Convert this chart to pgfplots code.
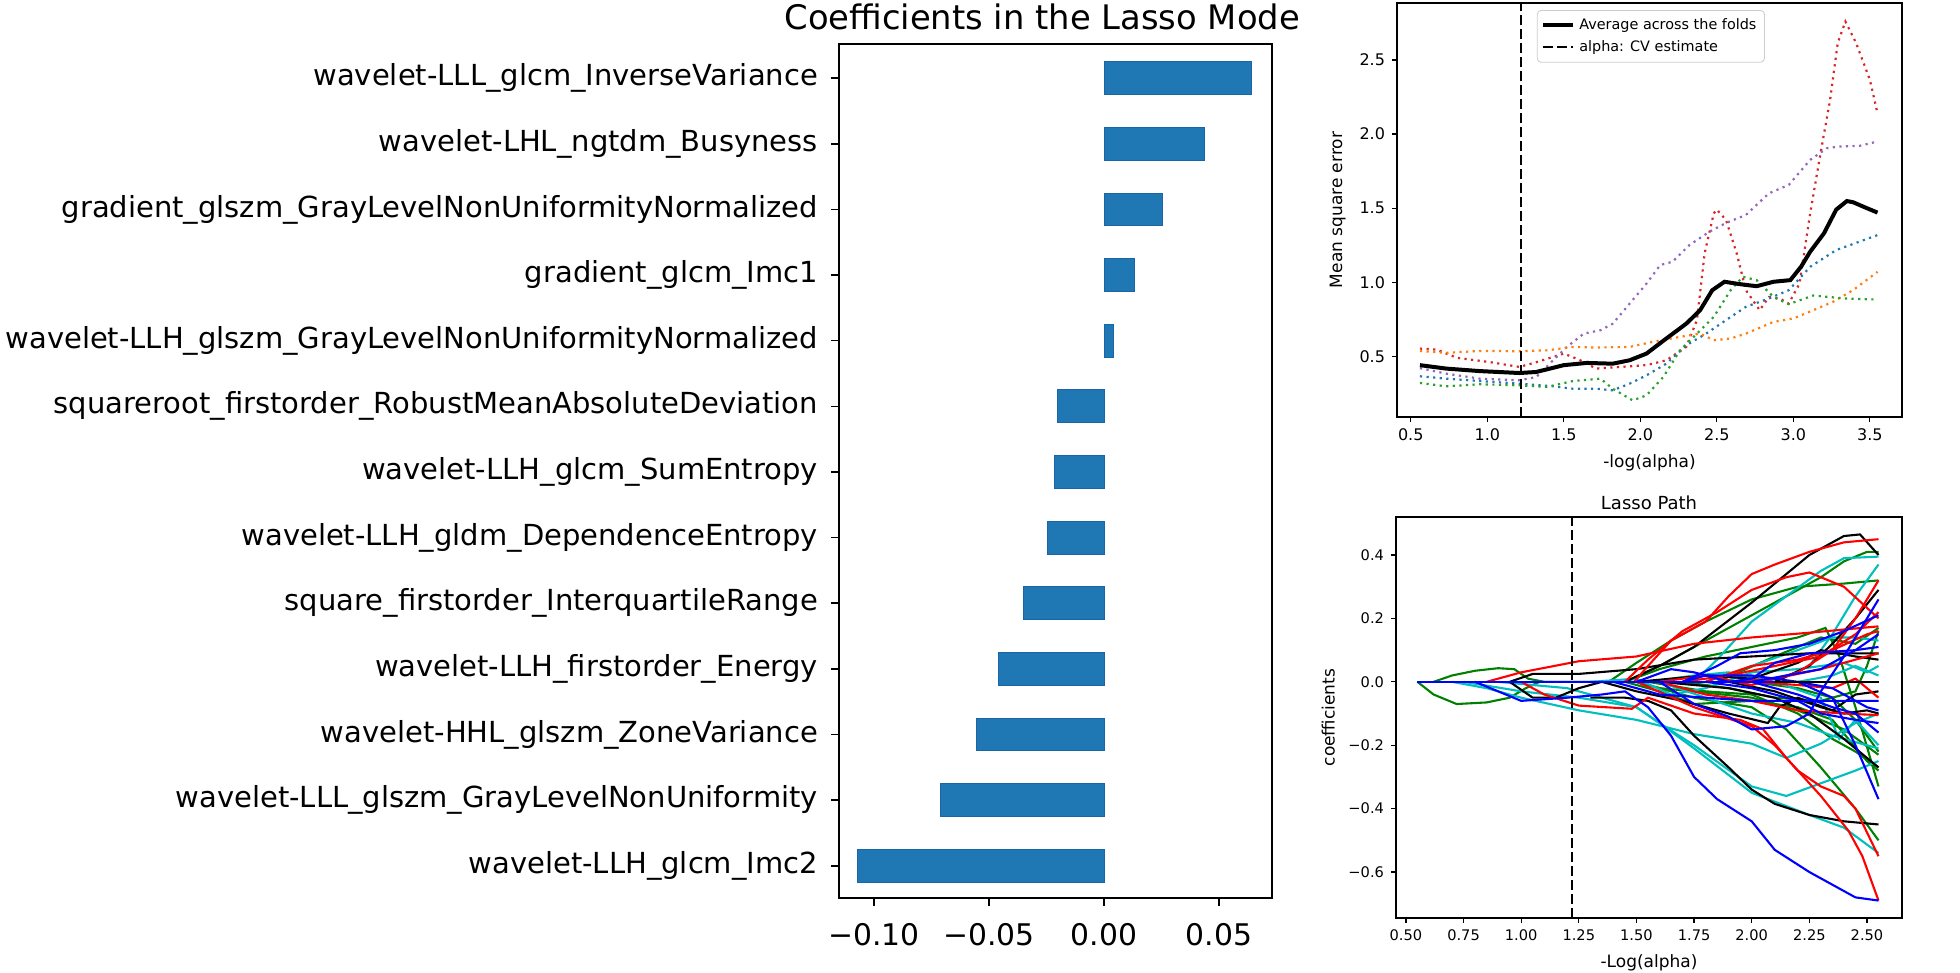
\documentclass[border=0pt]{standalone}
\usepackage{fontspec}
\setmainfont{DejaVu Sans}
\usepackage{pgfplots}
\pgfplotsset{compat=1.18}

\definecolor{barblue}{HTML}{1F77B4}
\definecolor{baredge}{HTML}{1A64A8}
\definecolor{tabblue}{HTML}{1F77B4}
\definecolor{taborange}{HTML}{FF7F0E}
\definecolor{tabgreen}{HTML}{2CA02C}
\definecolor{tabred}{HTML}{D62728}
\definecolor{tabpurple}{HTML}{9467BD}
\definecolor{mplg}{rgb}{0,0.5,0}
\definecolor{mplc}{rgb}{0,0.75,0.75}

\pgfplotsset{
  fold/.style={line width=1.1pt, dash pattern=on 1.1pt off 2.2pt, forget plot},
  lp/.style={line width=1.05pt, #1},
}

\begin{document}
\begin{tikzpicture}
\useasboundingbox (0,0) rectangle (980pt,-486.5pt);

% title of the left panel
\node[anchor=base west, inner sep=0pt, font=\fontsize{16.9}{20}\selectfont]
  at (392pt,-15pt) {Coefficients in the Lasso Mode};

% ---- left: coefficients of the lasso model
\begin{axis}[
    at={(419.5pt,-22pt)}, anchor=north west,
    scale only axis, width=216.5pt, height=427pt,
    xmin=-0.1152, xmax=0.073, ymin=-0.49, ymax=12.52,
    xtick={-0.1,-0.05,0,0.05},
    xticklabels={−0.10,−0.05,0.00,0.05},
    ytick={0,...,12},
    yticklabels={
      wavelet-LLH\_glcm\_Imc2,
      wavelet-LLL\_glszm\_GrayLevelNonUniformity,
      wavelet-HHL\_glszm\_ZoneVariance,
      wavelet-LLH\_firstorder\_Energy,
      square\_firstorder\_InterquartileRange,
      wavelet-LLH\_gldm\_DependenceEntropy,
      wavelet-LLH\_glcm\_SumEntropy,
      squareroot\_firstorder\_RobustMeanAbsoluteDeviation,
      wavelet-LLH\_glszm\_GrayLevelNonUniformityNormalized,
      gradient\_glcm\_Imc1,
      gradient\_glszm\_GrayLevelNonUniformityNormalized,
      wavelet-LHL\_ngtdm\_Busyness,
      wavelet-LLL\_glcm\_InverseVariance},
    yticklabel style={font=\fontsize{14.5}{17}\selectfont, xshift=-3pt},
    xticklabel style={font=\fontsize{14.9}{18}\selectfont, yshift=-5pt},
    tick align=outside, xtick pos=bottom, ytick pos=left,
    major tick length=4pt, axis line style={line width=1pt},
    tick style={line width=0.8pt, black},
]
\addplot[xbar, bar width=0.5, fill=barblue, draw=baredge, line width=0.5pt]
  coordinates {
    (-0.107,0) (-0.0713,1) (-0.0556,2) (-0.0457,3) (-0.0351,4)
    (-0.0247,5) (-0.0214,6) (-0.0204,7) (0.0043,8) (0.0131,9)
    (0.0252,10) (0.0438,11) (0.0639,12)
  };
\end{axis}

% ---- top right: cross-validated mean square error
\begin{axis}[
    at={(698.5pt,-1.5pt)}, anchor=north west,
    scale only axis, width=252.5pt, height=207pt,
    xmin=0.41, xmax=3.71, ymin=0.09, ymax=2.885,
    xtick={0.5,1,1.5,2,2.5,3,3.5},
    xticklabels={0.5,1.0,1.5,2.0,2.5,3.0,3.5},
    ytick={0.5,1,1.5,2,2.5},
    yticklabels={0.5,1.0,1.5,2.0,2.5},
    tick align=outside, xtick pos=bottom, ytick pos=left,
    major tick length=2.5pt, axis line style={line width=0.8pt},
    tick style={line width=0.6pt, black},
    tick label style={font=\fontsize{8}{9}\selectfont},
    label style={font=\fontsize{8.5}{10}\selectfont},
    xlabel={-log(alpha)}, ylabel={Mean square error},
    legend style={at={(0.277,0.983)}, anchor=north west, draw=black!20,
      rounded corners=2pt, fill=white, font=\fontsize{7.2}{8.8}\selectfont,
      inner sep=2pt},
    legend cell align=left,
    legend image code/.code={\draw[#1] (0pt,0pt) -- (15pt,0pt);},
]
\addplot[fold, tabred] coordinates {
  (0.56,0.552) (0.67,0.545) (0.80,0.49) (1.02,0.46) (1.21,0.428) (1.32,0.46)
  (1.50,0.518) (1.60,0.477) (1.71,0.417) (1.87,0.428) (2.04,0.44) (2.17,0.473)
  (2.30,0.563) (2.37,0.744) (2.42,1.194) (2.48,1.465) (2.50,1.49) (2.56,1.42)
  (2.63,1.194) (2.69,0.946) (2.78,0.811) (2.84,0.90) (2.91,0.89) (2.97,0.856)
  (3.04,0.99) (3.11,1.465) (3.17,1.826) (3.24,2.23) (3.29,2.615) (3.34,2.76)
  (3.41,2.615) (3.50,2.367) (3.55,2.14)};
\addplot[fold, tabpurple] coordinates {
  (0.56,0.42) (0.73,0.383) (0.95,0.349) (1.21,0.338) (1.32,0.36) (1.43,0.473)
  (1.52,0.563) (1.63,0.653) (1.74,0.676) (1.82,0.72) (1.95,0.88) (2.04,0.99)
  (2.13,1.116) (2.21,1.138) (2.32,1.25) (2.45,1.34) (2.56,1.40) (2.69,1.454)
  (2.84,1.60) (2.97,1.657) (3.11,1.826) (3.22,1.905) (3.30,1.916) (3.43,1.92)
  (3.55,1.95)};
\addplot[fold, tabblue] coordinates {
  (0.56,0.365) (0.73,0.349) (0.95,0.333) (1.21,0.315) (1.43,0.297) (1.56,0.281)
  (1.71,0.281) (1.82,0.27) (1.93,0.315) (2.04,0.371) (2.17,0.45) (2.30,0.574)
  (2.43,0.653) (2.56,0.744) (2.69,0.834) (2.84,0.89) (2.97,0.946) (3.11,1.104)
  (3.28,1.217) (3.43,1.273) (3.55,1.318)};
\addplot[fold, taborange] coordinates {
  (0.56,0.536) (0.73,0.523) (0.95,0.536) (1.21,0.534) (1.39,0.54) (1.56,0.563)
  (1.71,0.559) (1.93,0.563) (2.08,0.597) (2.26,0.631) (2.39,0.653) (2.48,0.608)
  (2.59,0.62) (2.69,0.653) (2.87,0.732) (3.00,0.755) (3.13,0.811) (3.26,0.868)
  (3.39,0.946) (3.55,1.07)};
\addplot[fold, tabgreen] coordinates {
  (0.56,0.32) (0.73,0.297) (0.95,0.311) (1.21,0.304) (1.39,0.293) (1.56,0.333)
  (1.74,0.349) (1.82,0.281) (1.95,0.202) (2.04,0.236) (2.15,0.36) (2.26,0.541)
  (2.37,0.653) (2.48,0.766) (2.59,0.946) (2.67,1.037) (2.76,1.014) (2.87,0.90)
  (2.97,0.852) (3.13,0.91) (3.34,0.89) (3.55,0.883)};
\addplot[black, line width=2pt] coordinates {
  (0.56,0.44) (0.73,0.417) (0.95,0.40) (1.21,0.387) (1.32,0.394) (1.50,0.44)
  (1.65,0.455) (1.82,0.45) (1.93,0.473) (2.04,0.518) (2.17,0.62) (2.30,0.72)
  (2.39,0.81) (2.47,0.946) (2.55,1.003) (2.65,0.987) (2.76,0.973) (2.87,1.003)
  (2.98,1.014) (3.05,1.104) (3.11,1.206) (3.20,1.33) (3.28,1.49) (3.35,1.548)
  (3.39,1.54) (3.48,1.50) (3.55,1.47)};
\addlegendentry{Average across the folds}
\addplot[black, line width=1pt, dash pattern=on 5pt off 2pt]
  coordinates {(1.222,0.09) (1.222,2.885)};
\addlegendentry{alpha: CV estimate}
\end{axis}

% ---- bottom right: lasso path
\begin{axis}[
    at={(698pt,-258.5pt)}, anchor=north west,
    scale only axis, width=253pt, height=200.5pt,
    xmin=0.457, xmax=2.652, ymin=-0.745, ymax=0.52,
    xtick={0.5,0.75,1,1.25,1.5,1.75,2,2.25,2.5},
    xticklabels={0.50,0.75,1.00,1.25,1.50,1.75,2.00,2.25,2.50},
    ytick={-0.6,-0.4,-0.2,0,0.2,0.4},
    yticklabels={−0.6,−0.4,−0.2,0.0,0.2,0.4},
    tick align=outside, xtick pos=bottom, ytick pos=left,
    major tick length=2.5pt, axis line style={line width=0.8pt},
    tick style={line width=0.6pt, black},
    tick label style={font=\fontsize{7.3}{9}\selectfont},
    label style={font=\fontsize{8.5}{10}\selectfont},
    every axis title shift=0pt,
    title style={font=\fontsize{9}{11}\selectfont, at={(0.5,1)}, anchor=base, yshift=4pt},
    title={Lasso Path}, xlabel={-Log(alpha)}, ylabel={coefficients},
]
% blue, zero line underneath
\addplot[lp=blue] coordinates {(0.55,0) (2.55,0)};
% green
\addplot[lp=mplg] coordinates {(0.62,0) (0.7,0.02) (0.8,0.035) (0.9,0.043) (0.97,0.04) (1.03,0.01) (1.1,0) (1.5,0) (1.6,-0.02) (1.75,-0.03) (2.0,-0.05) (2.2,-0.09) (2.4,-0.15) (2.55,-0.23)};
\addplot[lp=mplg] coordinates {(0.55,0) (0.62,-0.04) (0.72,-0.07) (0.85,-0.065) (0.95,-0.05) (1.02,-0.02) (1.08,0) (1.45,0) (1.6,0.05) (1.75,0.11) (1.9,0.17) (2.1,0.25) (2.3,0.33) (2.4,0.38) (2.5,0.41) (2.55,0.41)};
\addplot[lp=mplg] coordinates {(1.38,0) (1.5,0.06) (1.65,0.13) (1.8,0.19) (2.0,0.26) (2.2,0.30) (2.4,0.31) (2.55,0.32)};
\addplot[lp=mplg] coordinates {(1.45,0) (1.6,0.04) (1.8,0.08) (2.0,0.11) (2.2,0.14) (2.32,0.17) (2.38,0.08) (2.45,-0.08) (2.55,-0.33)};
\addplot[lp=mplg] coordinates {(1.5,0) (1.75,-0.05) (2.0,-0.08) (2.15,-0.15) (2.3,-0.27) (2.45,-0.40) (2.55,-0.50)};
\addplot[lp=mplg] coordinates {(1.55,0) (1.8,-0.03) (2.0,-0.04) (2.2,-0.10) (2.35,-0.18) (2.45,-0.22) (2.55,-0.27)};
\addplot[lp=mplg] coordinates {(1.7,0) (1.9,-0.02) (2.1,-0.05) (2.3,-0.06) (2.45,-0.03) (2.5,0.05) (2.55,0.16)};
\addplot[lp=mplg] coordinates {(1.45,0) (1.6,-0.03) (1.75,-0.07) (2.0,-0.06) (2.2,-0.08) (2.35,-0.12) (2.5,-0.25) (2.55,-0.28)};
\addplot[lp=mplg] coordinates {(1.85,0) (2.1,0.08) (2.3,0.14) (2.45,0.12) (2.55,0.17)};
\addplot[lp=mplg] coordinates {(2.0,0) (2.2,-0.02) (2.35,-0.05) (2.45,-0.12) (2.55,-0.22)};
% cyan
\addplot[lp=mplc] coordinates {(0.7,0) (0.85,-0.02) (1.0,-0.05) (1.25,-0.09) (1.5,-0.12) (1.75,-0.165) (2.0,-0.195) (2.15,-0.24) (2.3,-0.195) (2.45,-0.13) (2.55,-0.10)};
\addplot[lp=mplc] coordinates {(0.75,0) (1.0,-0.03) (1.25,-0.05) (1.5,-0.08) (1.6,-0.13) (1.75,-0.2) (2.0,-0.33) (2.15,-0.36) (2.3,-0.32) (2.45,-0.28) (2.55,-0.25)};
\addplot[lp=mplc] coordinates {(0.9,0) (1.2,-0.02) (1.5,-0.08) (1.6,-0.13) (1.75,-0.21) (2.0,-0.35) (2.25,-0.42) (2.4,-0.46) (2.55,-0.54)};
\addplot[lp=mplc] coordinates {(1.75,0) (1.85,0.07) (2.0,0.19) (2.15,0.27) (2.3,0.35) (2.4,0.39) (2.55,0.395)};
\addplot[lp=mplc] coordinates {(2.1,0) (2.25,0.05) (2.35,0.15) (2.45,0.27) (2.55,0.37)};
\addplot[lp=mplc] coordinates {(1.8,0) (2.0,0.05) (2.2,0.10) (2.35,0.14) (2.45,0.14) (2.55,0.13)};
\addplot[lp=mplc] coordinates {(1.55,0) (1.75,0.02) (1.9,0.03) (2.1,0.0) (2.3,-0.05) (2.38,-0.18) (2.45,-0.12) (2.55,-0.2)};
\addplot[lp=mplc] coordinates {(1.3,0) (1.5,0.01) (1.65,-0.04) (1.8,-0.02) (2.0,0.03) (2.2,0.04) (2.4,0.06) (2.5,0.03) (2.55,0.05)};
\addplot[lp=mplc] coordinates {(1.6,0) (1.8,-0.05) (2.0,-0.1) (2.2,-0.13) (2.35,-0.17) (2.45,-0.19) (2.55,-0.21)};
\addplot[lp=mplc] coordinates {(2.2,0) (2.35,0.02) (2.45,0.05) (2.55,0.02)};
% black
\addplot[lp=black] coordinates {(1.45,0) (1.6,0.05) (1.75,0.11) (2.0,0.25) (2.25,0.40) (2.4,0.46) (2.47,0.465) (2.55,0.40)};
\addplot[lp=black] coordinates {(0.95,0) (1.05,0.025) (1.25,0.025) (1.5,0.04) (1.75,0.07) (2.0,0.08) (2.25,0.09) (2.4,0.09) (2.55,0.09)};
\addplot[lp=black] coordinates {(1.3,-0.05) (1.45,-0.05) (1.55,-0.06) (1.65,-0.09) (1.75,-0.17) (1.9,-0.27) (2.0,-0.34) (2.1,-0.385) (2.25,-0.42) (2.4,-0.44) (2.55,-0.45)};
\addplot[lp=black] coordinates {(0.95,0) (1.05,-0.05) (1.15,-0.05) (1.25,-0.02) (1.35,0) (1.5,-0.03) (1.7,-0.06) (1.9,-0.1) (2.07,-0.13) (2.12,-0.08) (2.2,-0.05) (2.35,-0.09) (2.45,-0.04) (2.55,-0.03)};
\addplot[lp=black] coordinates {(2.1,0) (2.25,0.05) (2.35,0.12) (2.45,0.2) (2.55,0.29)};
\addplot[lp=black] coordinates {(1.6,0) (1.9,-0.02) (2.1,-0.05) (2.25,-0.1) (2.4,-0.18) (2.55,-0.27)};
\addplot[lp=black] coordinates {(1.5,0) (1.8,0.02) (2.0,0.01) (2.2,0.06) (2.3,0.10) (2.45,0.08) (2.55,0.07)};
\addplot[lp=black] coordinates {(1.9,0) (2.1,-0.03) (2.3,-0.08) (2.4,-0.1) (2.5,-0.09) (2.55,-0.1)};
% red
\addplot[lp=red] coordinates {(0.85,0) (1.0,0.03) (1.25,0.065) (1.5,0.08) (1.75,0.12) (2.0,0.14) (2.25,0.155) (2.55,0.175)};
\addplot[lp=red] coordinates {(1.49,0) (1.55,0.05) (1.65,0.13) (1.8,0.19) (1.9,0.27) (2.0,0.34) (2.1,0.37) (2.25,0.41) (2.4,0.44) (2.55,0.45)};
\addplot[lp=red] coordinates {(1.45,0) (1.55,0.07) (1.7,0.16) (1.85,0.22) (2.0,0.29) (2.15,0.33) (2.25,0.345) (2.4,0.30) (2.55,0.20)};
\addplot[lp=red] coordinates {(1.0,0) (1.1,-0.04) (1.25,-0.075) (1.48,-0.085) (1.55,-0.05) (1.75,-0.1) (1.95,-0.12) (2.05,-0.15) (2.15,-0.24) (2.3,-0.36) (2.42,-0.47) (2.48,-0.55) (2.55,-0.69)};
\addplot[lp=red] coordinates {(1.5,0) (1.75,-0.08) (2.0,-0.14) (2.1,-0.2) (2.2,-0.28) (2.3,-0.33) (2.4,-0.36) (2.45,-0.40) (2.55,-0.55)};
\addplot[lp=red] coordinates {(1.6,0) (1.8,0.02) (2.0,-0.01) (2.2,0.03) (2.35,0.1) (2.45,0.2) (2.55,0.32)};
\addplot[lp=red] coordinates {(1.7,0) (1.9,0.02) (2.1,0.05) (2.3,0.08) (2.45,0.15) (2.55,0.22)};
\addplot[lp=red] coordinates {(1.9,0) (2.1,0.01) (2.3,0.04) (2.45,0.07) (2.55,0.09)};
\addplot[lp=red] coordinates {(1.6,0) (1.8,-0.04) (2.0,-0.06) (2.2,-0.09) (2.4,-0.1) (2.55,-0.105)};
\addplot[lp=red] coordinates {(2.0,0) (2.2,-0.01) (2.35,-0.02) (2.45,0.01) (2.5,-0.02) (2.55,-0.05)};
\addplot[lp=red] coordinates {(1.8,0) (2.0,0.05) (2.2,0.07) (2.35,0.1) (2.5,0.15) (2.55,0.16)};
% blue
\addplot[lp=blue] coordinates {(0.8,0) (0.9,-0.03) (1.0,-0.06) (1.2,-0.05) (1.35,-0.04) (1.45,-0.03) (1.55,-0.08) (1.65,-0.17) (1.75,-0.30) (1.85,-0.37) (2.0,-0.44) (2.1,-0.53) (2.25,-0.60) (2.35,-0.64) (2.45,-0.68) (2.55,-0.69)};
\addplot[lp=blue] coordinates {(1.5,0) (1.65,0.04) (1.75,0.03) (1.9,0.0) (2.0,0.01) (2.1,0.06) (2.25,0.09) (2.45,0.10) (2.55,0.11)};
\addplot[lp=blue] coordinates {(1.6,0) (1.75,-0.07) (1.9,-0.11) (2.0,-0.15) (2.15,-0.14) (2.25,-0.1) (2.3,-0.03) (2.4,0.08) (2.55,0.26)};
\addplot[lp=blue] coordinates {(1.4,0) (1.6,-0.04) (1.8,-0.05) (2.0,-0.06) (2.2,-0.06) (2.4,-0.06) (2.55,-0.06)};
\addplot[lp=blue] coordinates {(1.8,0) (2.0,-0.02) (2.2,-0.06) (2.3,-0.10) (2.45,-0.12) (2.55,-0.13)};
\addplot[lp=blue] coordinates {(2.0,0) (2.2,-0.04) (2.35,-0.08) (2.45,-0.1) (2.55,-0.16)};
\addplot[lp=blue] coordinates {(2.2,0) (2.35,-0.05) (2.45,-0.2) (2.55,-0.37)};
\addplot[lp=blue] coordinates {(2.0,0) (2.15,0.02) (2.3,0.04) (2.45,0.1) (2.55,0.15)};
\addplot[lp=blue] coordinates {(1.7,0) (1.85,0.05) (1.95,0.09) (2.1,0.1) (2.25,0.12) (2.4,0.16) (2.55,0.21)};
\addplot[lp=blue] coordinates {(1.7,0) (1.8,0.02) (2.0,0.02) (2.2,0.0) (2.35,-0.02) (2.5,-0.08) (2.55,-0.09)};
\addplot[lp=blue] coordinates {(0.55,0) (2.1,0)};
\addplot[lp=black] coordinates {(2.1,0) (2.55,0)};
\addplot[black, line width=1pt, dash pattern=on 5pt off 2pt]
  coordinates {(1.222,-0.745) (1.222,0.52)};
\end{axis}
\end{tikzpicture}
\end{document}
